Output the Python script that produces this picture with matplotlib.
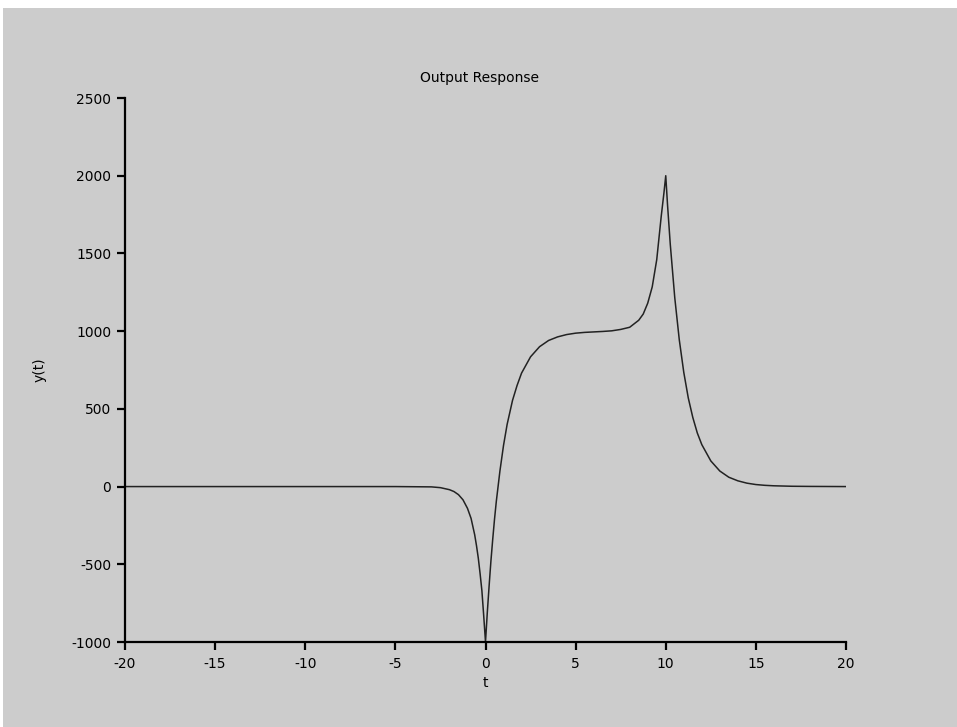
import matplotlib.pyplot as plt
from matplotlib.patches import Rectangle

plt.rcParams["axes.unicode_minus"] = False

# values
t = [-20, -5, -3, -2.5, -2, -1.75, -1.5, -1.25, -1.0, -0.8, -0.6, -0.5, -0.4,
     -0.3, -0.2, -0.1, 0,
     0.1, 0.2, 0.3, 0.4, 0.5, 0.6, 0.8, 1.0, 1.2, 1.5, 1.75, 2.0, 2.5, 3.0,
     3.5, 4.0, 4.5, 5.0, 5.5, 6.0, 6.5, 7.0, 7.5, 8.0, 8.5, 8.75, 9.0, 9.25,
     9.5, 9.75, 9.9, 10.0,
     10.1, 10.25, 10.5, 10.75, 11.0, 11.25, 11.5, 11.75, 12.0, 12.5, 13.0,
     13.5, 14.0, 14.5, 15.0, 15.5, 16.0, 17.0, 18.0, 20.0]
y = [0, 0, -2, -7, -20, -32, -52, -85, -140, -205, -310, -380, -460,
     -560, -670, -830, -1000,
     -810, -640, -480, -340, -210, -95, 100, 265, 400, 555, 650, 730, 835, 900,
     940, 963, 978, 987, 992, 995, 998, 1002, 1011, 1025, 1070, 1110, 1180, 1285,
     1460, 1740, 1890, 2000,
     1810, 1560, 1215, 945, 735, 570, 445, 345, 270, 165, 100,
     60, 37, 22, 13, 8, 5, 2, 1, 0]

xticks = [-20, -15, -10, -5, 0, 5, 10, 15, 20]
yticks = [-1000, -500, 0, 500, 1000, 1500, 2000, 2500]

W, H = 957, 727
fig = plt.figure(figsize=(W / 100, H / 100), dpi=100)
fig.patch.set_facecolor("white")
fig.add_artist(Rectangle((3 / W, 0), 1, 1 - 8 / H, transform=fig.transFigure,
                         facecolor="#cccccc", edgecolor="none", zorder=-5))

ax = fig.add_axes([125 / W, 1 - 642 / H, (846 - 125) / W, (642 - 98) / H])
ax.set_facecolor("none")
ax.plot(t, y, color="#222222", lw=1.1)

ax.set_xlim(-20, 20)
ax.set_ylim(-1000, 2500)
ax.set_xticks(xticks)
ax.set_yticks(yticks)

for side in ["top", "right"]:
    ax.spines[side].set_visible(False)
for side in ["left", "bottom"]:
    ax.spines[side].set_linewidth(1.6)
    ax.spines[side].set_color("black")
ax.tick_params(direction="out", length=6, width=1.6, labelsize=10,
               colors="black", pad=4)
ax.tick_params(axis="x", pad=5)

fig.text(479 / W, 1 - 78 / H, "Output Response", ha="center", va="center",
         fontsize=10)
fig.text(485 / W, 1 - 683 / H, "t", ha="center", va="center", fontsize=10)
fig.text(40 / W, 1 - 370 / H, "y(t)", ha="center", va="center", fontsize=10,
         rotation=90)

fig.savefig("out.png", dpi=100)
